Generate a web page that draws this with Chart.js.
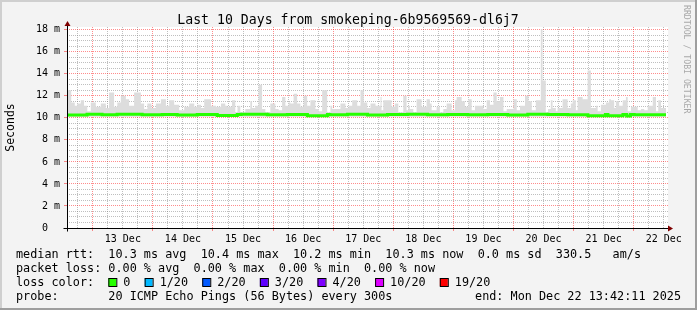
<!DOCTYPE html>
<html>
<head>
<meta charset="utf-8">
<title>smokeping - last 10 days</title>
<script src="https://cdn.jsdelivr.net/npm/chart.js@4/dist/chart.umd.min.js"></script>
<style>
    html, body { margin: 0; padding: 0; background: #f3f3f3; }
    canvas { display: block; }
</style>
</head>
<body>
<canvas id="smokeChart" width="697" height="310"></canvas>
<script>
// ---- data (x = hours since Dec 12 13:42:11, y = milliseconds) ----
const chartTitle = 'Last 10 Days from smokeping-6b9569569-dl6j7';
const dayLabels = ['13 Dec', '14 Dec', '15 Dec', '16 Dec', '17 Dec', '18 Dec', '19 Dec', '20 Dec', '21 Dec', '22 Dec'];
const firstMidnight = 10.297;   // Dec 13 00:00 relative to start
const rangeHours = 240;
const yMax = 18.25;

// smoke (spread of the 20 pings), stepped
const smokeBottom = 10.1;
const smokeHours = [
    0, 1.7, 3.1, 4.1, 5.5, 6.8, 8.1, 9.5, 11.5, 13.5, 15.5, 16.8, 18.8, 20.1, 21.5, 23.5, 24.8, 26.8, 29.5, 30.8,
    32.1, 33.7, 35.5, 37.5, 39.5, 40.8, 42.8, 44.8, 46.8, 48.8, 50.8, 52.1, 53.5, 54.8, 57.5, 59.5, 61.5, 63.2, 63.9, 65.9,
    67.2, 68.1, 69.2, 71.2, 73.2, 73.9, 75.2, 76.5, 77.9, 79.2, 81.2, 83.2, 84.5, 85.9, 87.2, 88.5, 89.2, 90.5, 91.9, 93.2,
    94.5, 95.9, 97.2, 99.2, 100.5, 101.9, 103.9, 105.2, 105.9, 109.2, 111.2, 112.5, 113.9, 115.9, 117.2, 118.5, 119.9, 121.2, 123.2, 125.2,
    125.6, 126.3, 129.6, 130.9, 132.3, 134.3, 135.6, 136.3, 136.9, 138.3, 139.6, 141.6, 143.6, 144.9, 145.6, 147.6, 148.9, 150.3, 151.6, 153.6,
    154.9, 155.6, 157.6, 158.9, 160.3, 161.6, 162.9, 166.3, 167.6, 168.9, 170.3, 171.6, 172.9, 174.3, 175.6, 178.3, 179.6, 180.9, 182.9, 184.3,
    185.6, 187.2, 189.2, 189.9, 191.2, 192.1, 193.2, 193.9, 195.2, 195.9, 197.9, 199.9, 201.2, 201.9, 203.2, 203.9, 205.9, 207.9, 209.2, 211.2,
    211.9, 213.2, 215.2, 216.5, 217.2, 218.5, 219.2, 220.5, 221.9, 223.2, 223.9, 225.2, 227.9, 229.2, 230.5, 231.9, 233.9, 235.2, 236.1, 237.2,
    238.1, 239.2
];
const smokeTop = [
    11.3, 12.5, 11.4, 11.1, 11.3, 11.6, 11.1, 10.6, 11.4, 11.0, 11.3, 10.9, 12.3, 11.0, 11.4, 12.0, 11.7, 11.1, 12.3, 11.3,
    10.8, 11.3, 10.9, 11.3, 11.7, 11.1, 11.6, 11.2, 10.7, 11.0, 11.3, 11.0, 11.2, 10.9, 11.7, 11.1, 11.0, 11.3, 11.1, 11.0,
    11.6, 10.5, 11.1, 10.5, 10.8, 11.5, 10.9, 11.1, 13.0, 10.8, 10.5, 11.3, 10.8, 10.7, 11.9, 11.1, 11.4, 11.3, 12.2, 11.3,
    11.0, 12.0, 11.1, 11.6, 10.8, 10.6, 12.5, 10.5, 11.1, 10.8, 11.3, 10.9, 11.1, 11.6, 11.1, 12.5, 11.4, 10.9, 11.3, 11.1,
    11.9, 10.7, 11.6, 11.0, 11.3, 10.5, 12.0, 10.7, 11.1, 10.8, 10.5, 11.7, 11.0, 11.7, 11.3, 10.7, 11.0, 10.5, 10.8, 11.3,
    10.7, 11.6, 11.9, 11.5, 11.0, 11.7, 10.7, 11.1, 10.8, 11.6, 11.2, 12.3, 11.5, 11.9, 10.6, 10.8, 11.7, 10.7, 11.1, 12.0,
    11.5, 10.7, 11.6, 18.05, 13.4, 10.5, 10.8, 11.6, 10.9, 10.6, 10.9, 11.7, 10.9, 11.3, 11.6, 10.7, 11.9, 11.7, 14.3, 10.9,
    11.1, 10.6, 11.2, 11.4, 11.7, 11.6, 10.9, 11.5, 11.1, 11.6, 11.9, 10.6, 11.0, 10.7, 10.8, 10.7, 11.1, 11.9, 10.6, 11.6,
    10.9, 10.9
];

// median rtt, stepped
const medianHours = [
    0, 8, 14, 20, 30, 38, 44, 52, 60, 68, 69.5, 80, 88, 96, 104, 105, 112, 120, 128, 136,
    144, 152, 160, 168, 176, 184, 192, 200, 208, 215, 216, 222, 223.5, 225, 226.5, 232, 239.2
];
const medianRtt = [
    10.30, 10.27, 10.32, 10.29, 10.33, 10.28, 10.31, 10.27, 10.30, 10.22, 10.30, 10.33, 10.29, 10.31, 10.20, 10.30, 10.28, 10.32, 10.27, 10.30,
    10.33, 10.28, 10.31, 10.29, 10.30, 10.27, 10.32, 10.30, 10.28, 10.20, 10.30, 10.20, 10.30, 10.18, 10.31, 10.29, 10.29
];

// legend
const rttStats = ['10.3 ms avg', '10.4 ms max', '10.2 ms min', '10.3 ms now', '0.0 ms sd', '330.5   am/s'];
const lossStats = ['0.00 % avg', '0.00 % max', '0.00 % min', '0.00 % now'];
const lossLabels = ['0', '1/20', '2/20', '3/20', '4/20', '10/20', '19/20'];
const lossColors = ['#26ff00', '#00b8ff', '#0059ff', '#5e00ff', '#7e00ff', '#dd00ff', '#ff0000'];
const probeText = '20 ICMP Echo Pings (56 Bytes) every 300s';
const endText = 'end: Mon Dec 22 13:42:11 2025';

const MONO = '"DejaVu Sans Mono", "Liberation Mono", monospace';
const MAJOR_GRID = 'rgba(255, 0, 0, 0.45)';
const MINOR_GRID = 'rgba(128, 128, 128, 0.5)';

Chart.defaults.font.family = MONO;
Chart.defaults.color = '#000';

/**
 * Draws the rrdtool-style frame, axes with arrows, titles and legend
 */
const rrdDecor = {
    id: 'rrdDecor',
    beforeDraw(chart) {
        const ctx = chart.ctx;
        const a = chart.chartArea;
        ctx.save();
        ctx.fillStyle = '#f3f3f3';
        ctx.fillRect(0, 0, chart.width, chart.height);
        // 3d-ish frame
        ctx.fillStyle = '#cfcfcf';
        ctx.fillRect(0, 0, chart.width, 2);
        ctx.fillRect(0, 0, 2, chart.height);
        ctx.fillStyle = '#9e9e9e';
        ctx.fillRect(0, chart.height - 2, chart.width, 2);
        ctx.fillRect(chart.width - 2, 0, 2, chart.height);
        // canvas
        ctx.fillStyle = '#ffffff';
        ctx.fillRect(a.left, a.top, a.right - a.left, a.bottom - a.top);
        ctx.restore();
    },
    afterDraw(chart) {
        const ctx = chart.ctx;
        const a = chart.chartArea;
        const x0 = Math.round(a.left) + 0.5;
        const y0 = Math.round(chart.scales.y.getPixelForValue(0) - 0.5) + 0.5;
        ctx.save();

        // axes
        ctx.strokeStyle = '#000';
        ctx.lineWidth = 1;
        ctx.beginPath();
        ctx.moveTo(x0, a.top - 4);
        ctx.lineTo(x0, y0 + 3);
        ctx.moveTo(x0 - 4, y0);
        ctx.lineTo(a.right + 3, y0);
        ctx.stroke();

        // arrows
        ctx.fillStyle = '#7f0000';
        ctx.beginPath();
        ctx.moveTo(x0, a.top - 6);
        ctx.lineTo(x0 - 3, a.top - 1);
        ctx.lineTo(x0 + 3, a.top - 1);
        ctx.closePath();
        ctx.fill();
        ctx.beginPath();
        ctx.moveTo(a.right + 5, y0);
        ctx.lineTo(a.right, y0 - 3);
        ctx.lineTo(a.right, y0 + 3);
        ctx.closePath();
        ctx.fill();

        // title
        ctx.fillStyle = '#000';
        ctx.font = '13.2px ' + MONO;
        ctx.textAlign = 'center';
        ctx.textBaseline = 'alphabetic';
        ctx.fillText(chartTitle, 348, 24);

        // y axis title
        ctx.save();
        ctx.translate(11, (a.top + a.bottom) / 2);
        ctx.rotate(-Math.PI / 2);
        ctx.font = '11.5px ' + MONO;
        ctx.textBaseline = 'middle';
        ctx.fillText('Seconds', 0, 0);
        ctx.restore();

        // vertical credit
        ctx.save();
        ctx.translate(684, 5);
        ctx.rotate(Math.PI / 2);
        ctx.font = '8.2px ' + MONO;
        ctx.fillStyle = '#a8a8a8';
        ctx.textAlign = 'left';
        ctx.textBaseline = 'alphabetic';
        ctx.fillText('RRDTOOL / TOBI OETIKER', 0, 0);
        ctx.restore();

        // legend
        ctx.font = '11.8px ' + MONO;
        ctx.textAlign = 'left';
        ctx.textBaseline = 'alphabetic';
        const charW = ctx.measureText('0').width;
        const lx = 16;
        ctx.fillText('median rtt:  ' + rttStats.join('  '), lx, 258);
        ctx.fillText('packet loss: ' + lossStats.join('  '), lx, 272);
        ctx.fillText('loss color:', lx, 286);
        let sx = lx + 13 * charW;
        lossLabels.forEach(function(label, i) {
            ctx.fillStyle = lossColors[i];
            ctx.fillRect(sx, 278, 8, 8);
            ctx.strokeStyle = '#000';
            ctx.strokeRect(sx + 0.5, 278.5, 8, 8);
            ctx.fillStyle = '#000';
            ctx.fillText(label, sx + 15, 286);
            sx += 15 + (label.length + 2) * charW;
        });
        ctx.fillText('probe:       ' + probeText, lx, 300);
        ctx.textAlign = 'right';
        ctx.fillText(endText, 681, 300);

        ctx.restore();
    }
};

function isMajorX(v) {
    const k = Math.round((v - firstMidnight) / 6);
    return ((k % 4) + 4) % 4 === 0;
}

function isMajorY(v) {
    return Math.abs(v / 2 - Math.round(v / 2)) < 1e-6;
}

function toPoints(xs, ys) {
    return xs.map(function(x, i) { return { x: x, y: ys[i] }; });
}

new Chart(document.getElementById('smokeChart'), {
    type: 'line',
    data: {
        datasets: [
            {
                label: 'median rtt',
                data: toPoints(medianHours, medianRtt),
                order: 0,
                stepped: 'after',
                fill: false,
                borderColor: '#26ff00',
                borderWidth: 3,
                pointRadius: 0
            },
            {
                label: 'smoke',
                data: toPoints(smokeHours, smokeTop),
                order: 1,
                stepped: 'after',
                fill: { value: smokeBottom },
                backgroundColor: '#dddddd',
                borderWidth: 0,
                pointRadius: 0
            }
        ]
    },
    options: {
        responsive: false,
        animation: false,
        devicePixelRatio: 1,
        events: [],
        layout: { padding: { left: 0, top: 27, right: 29, bottom: 62 } },
        plugins: {
            legend: { display: false },
            tooltip: { enabled: false }
        },
        scales: {
            x: {
                type: 'linear',
                min: 0,
                max: rangeHours,
                border: { display: false, dash: [1, 1] },
                afterBuildTicks: function(scale) {
                    const ticks = [];
                    for (let t = firstMidnight - 6; t <= rangeHours; t += 6) {
                        ticks.push({ value: t });
                    }
                    scale.ticks = ticks;
                },
                afterFit: function(scale) {
                    scale.height = 20;
                    scale.paddingLeft = 0;
                    scale.paddingRight = 0;
                },
                grid: {
                    color: function(c) { return isMajorX(c.tick.value) ? MAJOR_GRID : MINOR_GRID; },
                    tickColor: function(c) { return isMajorX(c.tick.value) ? MAJOR_GRID : 'rgba(0,0,0,0)'; },
                    tickLength: 3
                },
                ticks: {
                    autoSkip: false,
                    maxRotation: 0,
                    padding: 2,
                    font: { size: 10 },
                    color: '#000',
                    callback: function(v) {
                        const k = Math.round((v - firstMidnight) / 6);
                        if (((k % 4) + 4) % 4 !== 2) return '';
                        return dayLabels[(k - 2) / 4] || '';
                    }
                }
            },
            y: {
                min: 0,
                max: yMax,
                border: { display: false, dash: [1, 1] },
                afterBuildTicks: function(scale) {
                    const ticks = [];
                    for (let v = 0; v <= 18; v += 0.5) {
                        ticks.push({ value: v });
                    }
                    scale.ticks = ticks;
                },
                afterFit: function(scale) {
                    scale.width = 67;
                    scale.paddingTop = 0;
                    scale.paddingBottom = 0;
                },
                grid: {
                    color: function(c) { return isMajorY(c.tick.value) ? MAJOR_GRID : MINOR_GRID; },
                    tickColor: function(c) { return isMajorY(c.tick.value) ? MAJOR_GRID : 'rgba(0,0,0,0)'; },
                    tickLength: 3
                },
                ticks: {
                    autoSkip: false,
                    padding: 4,
                    font: { size: 10 },
                    color: '#000',
                    callback: function(v) {
                        if (!isMajorY(v)) return '';
                        return v === 0 ? '0\u00a0\u00a0' : Math.round(v) + ' m';
                    }
                }
            }
        }
    },
    plugins: [rrdDecor]
});
</script>
</body>
</html>
